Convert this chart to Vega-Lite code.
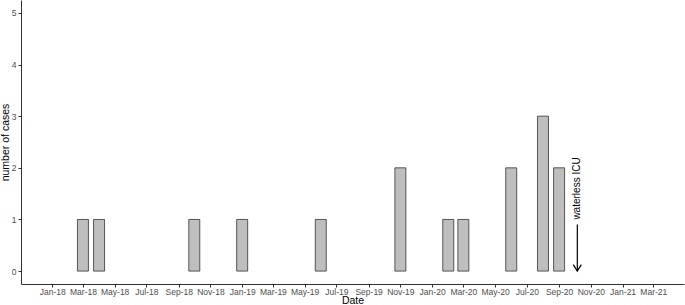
{
  "$schema": "https://vega.github.io/schema/vega-lite/v6.json",
  "width": 663,
  "height": 284,
  "autosize": {"type": "none"},
  "padding": {"left": 21, "top": 0, "right": 1, "bottom": 21},
  "background": "white",
  "config": {
    "view": {"stroke": null},
    "font": "Liberation Sans",
    "axis": {
      "grid": false,
      "domainColor": "#333333",
      "domainWidth": 1,
      "tickColor": "#333333",
      "tickSize": 3,
      "labelColor": "#4D4D4D",
      "labelFont": "Liberation Sans",
      "labelFontSize": 8.5,
      "titleFont": "Liberation Sans",
      "titleFontSize": 10.5,
      "titleFontWeight": "normal",
      "titleColor": "black"
    }
  },
  "datasets": {
    "cases": [
      {"date": "2018-03-01", "cases": 1},
      {"date": "2018-04-01", "cases": 1},
      {"date": "2018-10-01", "cases": 1},
      {"date": "2019-01-01", "cases": 1},
      {"date": "2019-06-01", "cases": 1},
      {"date": "2019-11-01", "cases": 2},
      {"date": "2020-02-01", "cases": 1},
      {"date": "2020-03-01", "cases": 1},
      {"date": "2020-06-01", "cases": 2},
      {"date": "2020-08-01", "cases": 3},
      {"date": "2020-09-01", "cases": 2}
    ],
    "note": [
      {"date": "2020-10-06", "top": 0.9, "bottom": 0, "labely": 1.6, "label": "waterless ICU"}
    ]
  },
  "layer": [
    {
      "data": {"name": "cases"},
      "mark": {"type": "bar", "width": 11, "fill": "#BEBEBE", "stroke": "#333333", "strokeWidth": 0.8},
      "encoding": {
        "x": {
          "field": "date",
          "type": "temporal",
          "title": "Date",
          "scale": {
            "type": "utc",
            "domain": [
              {"year": 2017, "month": 11, "date": 2, "utc": true},
              {"year": 2021, "month": 4, "date": 29, "utc": true}
            ],
            "nice": false,
            "padding": 0
          },
          "axis": {
            "format": "%b-%y",
            "tickCount": {"interval": "month", "step": 2},
            "labelPadding": 0.5,
            "labelOverlap": false,
            "titleY": 16.5,
            "titleBaseline": "middle"
          }
        },
        "y": {
          "field": "cases",
          "type": "quantitative",
          "title": "number of cases",
          "scale": {"domain": [-0.25, 5.25], "nice": false, "zero": false},
          "axis": {"values": [0, 1, 2, 3, 4, 5], "format": "d", "labelPadding": 2, "titleX": -15.5, "titleBaseline": "middle"}
        },
        "y2": {"datum": 0}
      }
    },
    {
      "data": {"name": "note"},
      "mark": {"type": "rule", "color": "black", "strokeWidth": 1.2},
      "encoding": {
        "x": {"field": "date", "type": "temporal"},
        "y": {"field": "top", "type": "quantitative"},
        "y2": {"field": "bottom"}
      }
    },
    {
      "data": {"name": "note"},
      "mark": {"type": "point", "shape": "M-1,-1.6L0,0L1,-1.6", "size": 64, "filled": false, "stroke": "black", "strokeWidth": 1.2, "opacity": 1},
      "encoding": {
        "x": {"field": "date", "type": "temporal"},
        "y": {"field": "bottom", "type": "quantitative"}
      }
    },
    {
      "data": {"name": "note"},
      "mark": {"type": "text", "angle": 270, "fontSize": 10, "color": "black", "align": "center", "baseline": "middle"},
      "encoding": {
        "x": {"field": "date", "type": "temporal"},
        "y": {"field": "labely", "type": "quantitative"},
        "text": {"field": "label"}
      }
    }
  ]
}
